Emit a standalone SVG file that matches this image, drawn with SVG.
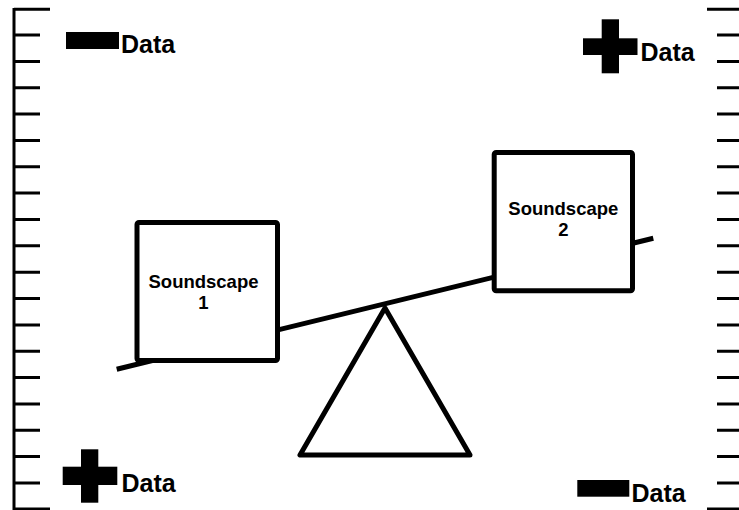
<svg xmlns="http://www.w3.org/2000/svg" width="739" height="510" viewBox="0 0 739 510">
<style>
.ln{stroke:#000;stroke-width:3;fill:none}
.thick{stroke:#000;stroke-width:5;fill:#fff;stroke-linejoin:round}
.lbl{font-family:"Liberation Sans",Arial,sans-serif;font-weight:bold;font-size:25px;fill:#000}
.box{font-family:"Liberation Sans",Arial,sans-serif;font-weight:bold;font-size:18.5px;fill:#000;text-anchor:middle}
</style>
<rect width="739" height="510" fill="#fff"/>
<g id="ruler-left">
<path class="ln" d="M14 8V510M14 9.3H50M14 509H50"/>
<path class="ln" d="M14 35H40M14 61.4H40M14 87.7H40M14 114H40M14 140.4H40M14 166.8H40M14 193.1H40M14 219.5H40M14 245.8H40M14 272.2H40M14 298.5H40M14 324.9H40M14 351.2H40M14 377.6H40M14 403.9H40M14 430.3H40M14 456.6H40M14 483H40"/>
</g>
<g id="ruler-right">
<path class="ln" d="M707 9.3H739M707 509H739"/>
<path class="ln" d="M717 35H739M717 61.4H739M717 87.7H739M717 114H739M717 140.4H739M717 166.8H739M717 193.1H739M717 219.5H739M717 245.8H739M717 272.2H739M717 298.5H739M717 324.9H739M717 351.2H739M717 377.6H739M717 403.9H739M717 430.3H739M717 456.6H739M717 483H739"/>
</g>
<g id="legend-tl">
<rect x="66" y="32" width="53" height="17" fill="#000"/>
<text class="lbl" x="121" y="52.5">Data</text>
</g>
<g id="legend-tr">
<rect x="583" y="38.3" width="54.5" height="16.7" fill="#000"/>
<rect x="601.7" y="19.3" width="17.3" height="54" fill="#000"/>
<text class="lbl" x="640.5" y="61">Data</text>
</g>
<g id="legend-bl">
<rect x="62.7" y="466.7" width="54.6" height="18.3" fill="#000"/>
<rect x="81" y="449.3" width="17.3" height="53.4" fill="#000"/>
<text class="lbl" x="121.5" y="491.5">Data</text>
</g>
<g id="legend-br">
<rect x="577.3" y="480" width="52" height="16.7" fill="#000"/>
<text class="lbl" x="631.5" y="501.5">Data</text>
</g>
<g id="connectors">
<line x1="116.7" y1="369.3" x2="653.3" y2="238.3" stroke="#000" stroke-width="5"/>
</g>
<g id="fulcrum">
<polygon class="thick" points="385,308 300,455 470,455"/>
</g>
<g id="soundscape1">
<rect class="thick" x="137" y="222.5" width="140.5" height="138" rx="2"/>
<text class="box" x="203.5" y="288.3">Soundscape</text>
<text class="box" x="203.5" y="309.3">1</text>
</g>
<g id="soundscape2">
<rect class="thick" x="494.2" y="152.5" width="138.3" height="138.3" rx="2"/>
<text class="box" x="563.3" y="215">Soundscape</text>
<text class="box" x="563.3" y="236">2</text>
</g>
</svg>
